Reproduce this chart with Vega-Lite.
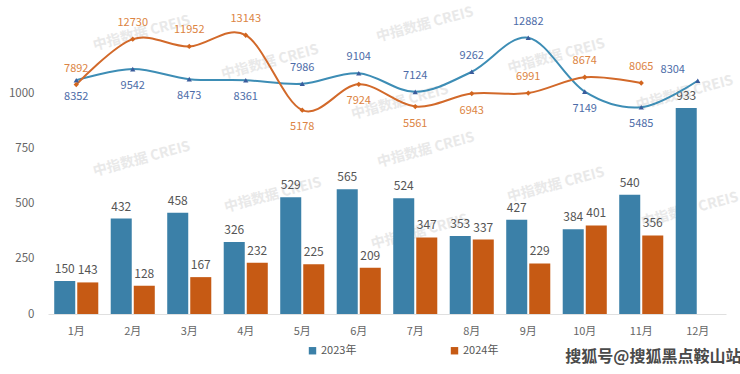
{
  "$schema": "https://vega.github.io/schema/vega-lite/v6.json",
  "width": 678,
  "height": 276,
  "autosize": {"type": "none"},
  "padding": {"left": 48, "top": 38, "right": 14, "bottom": 60},
  "background": "white",
  "config": {
    "view": {"stroke": null},
    "font": "Noto Sans CJK SC, Open Sans, sans-serif",
    "text": {"font": "Noto Sans CJK SC, Open Sans, sans-serif"}
  },
  "title": {
    "text": "搜狐号@搜狐黑点鞍山站",
    "orient": "bottom",
    "anchor": "end",
    "fontSize": 16,
    "fontWeight": "bold",
    "color": "#4a4a4a",
    "offset": -7
  },
  "datasets": {
    "main": [
      {"month": "1月", "year": "2023年", "vol": 150, "price": 8352},
      {"month": "1月", "year": "2024年", "vol": 143, "price": 7892},
      {"month": "2月", "year": "2023年", "vol": 432, "price": 9542},
      {"month": "2月", "year": "2024年", "vol": 128, "price": 12730},
      {"month": "3月", "year": "2023年", "vol": 458, "price": 8473},
      {"month": "3月", "year": "2024年", "vol": 167, "price": 11952},
      {"month": "4月", "year": "2023年", "vol": 326, "price": 8361},
      {"month": "4月", "year": "2024年", "vol": 232, "price": 13143},
      {"month": "5月", "year": "2023年", "vol": 529, "price": 7986},
      {"month": "5月", "year": "2024年", "vol": 225, "price": 5178},
      {"month": "6月", "year": "2023年", "vol": 565, "price": 9104},
      {"month": "6月", "year": "2024年", "vol": 209, "price": 7924},
      {"month": "7月", "year": "2023年", "vol": 524, "price": 7124},
      {"month": "7月", "year": "2024年", "vol": 347, "price": 5561},
      {"month": "8月", "year": "2023年", "vol": 353, "price": 9262},
      {"month": "8月", "year": "2024年", "vol": 337, "price": 6943},
      {"month": "9月", "year": "2023年", "vol": 427, "price": 12882},
      {"month": "9月", "year": "2024年", "vol": 229, "price": 6991},
      {"month": "10月", "year": "2023年", "vol": 384, "price": 7149},
      {"month": "10月", "year": "2024年", "vol": 401, "price": 8674},
      {"month": "11月", "year": "2023年", "vol": 540, "price": 5485},
      {"month": "11月", "year": "2024年", "vol": 356, "price": 8065},
      {"month": "12月", "year": "2023年", "vol": 933, "price": 8304}
    ],
    "wm": [
      {"wx": 1.66, "wy": 1271},
      {"wx": 1.66, "wy": 701},
      {"wx": 3.93, "wy": 1140},
      {"wx": 3.98, "wy": 538},
      {"wx": 6.67, "wy": 1310},
      {"wx": 6.23, "wy": 959},
      {"wx": 6.69, "wy": 742},
      {"wx": 6.58, "wy": 371},
      {"wx": 9.0, "wy": 1167},
      {"wx": 8.99, "wy": 584},
      {"wx": 11.27, "wy": 1000},
      {"wx": 11.36, "wy": 471}
    ]
  },
  "layer": [
    {
      "data": {"name": "wm"},
      "mark": {"type": "text", "text": "中指数据  CREIS", "angle": 345, "fontSize": 14, "fontWeight": "bold", "color": "#e9e9e9", "align": "center", "baseline": "middle"},
      "encoding": {
        "x": {"field": "wx", "type": "quantitative", "scale": {"domain": [0, 12], "nice": false, "zero": false}, "axis": null},
        "y": {"field": "wy", "type": "quantitative", "scale": {"domain": [0, 1250], "nice": false}, "axis": null}
      }
    },
    {
      "data": {"name": "main"},
      "layer": [
        {
          "mark": {"type": "bar"},
          "encoding": {
            "x": {
              "field": "month", "type": "ordinal",
              "sort": ["1月","2月","3月","4月","5月","6月","7月","8月","9月","10月","11月","12月"],
              "scale": {"paddingInner": 0, "paddingOuter": 0},
              "axis": {"title": null, "labelAngle": 0, "ticks": false, "domainColor": "#e0e0e0", "labelColor": "#666666", "labelFontSize": 11, "labelPadding": 11, "grid": false}
            },
            "xOffset": {"field": "year", "type": "nominal", "scale": {"paddingInner": 0.087, "paddingOuter": 0.27}},
            "y": {
              "field": "vol", "type": "quantitative",
              "scale": {"domain": [0, 1250], "nice": false},
              "axis": {"title": null, "values": [0, 250, 500, 750, 1000], "format": "d", "grid": false, "domain": false, "ticks": false, "labelColor": "#666666", "labelFontSize": 11.5, "labelPadding": 14}
            },
            "color": {
              "field": "year", "type": "nominal",
              "scale": {"domain": ["2023年", "2024年"], "range": ["#3b80a8", "#c65a14"]},
              "legend": {"title": null, "orient": "none", "legendX": 259, "legendY": 307, "direction": "horizontal", "columns": 2, "symbolType": "square", "symbolSize": 55, "labelFontSize": 11, "labelColor": "#555555", "columnPadding": 92, "labelOffset": 3}
            }
          }
        },
        {
          "mark": {"type": "text", "baseline": "bottom", "dy": -5, "fontSize": 12, "color": "#555555"},
          "encoding": {
            "x": {"field": "month", "type": "ordinal", "sort": ["1月","2月","3月","4月","5月","6月","7月","8月","9月","10月","11月","12月"]},
            "xOffset": {"field": "year", "type": "nominal"},
            "y": {"field": "vol", "type": "quantitative"},
            "text": {"field": "vol", "type": "quantitative", "format": "d"}
          }
        }
      ]
    },
    {
      "data": {"name": "main"},
      "encoding": {
        "x": {
          "field": "month", "type": "ordinal",
          "sort": ["1月","2月","3月","4月","5月","6月","7月","8月","9月","10月","11月","12月"],
          "scale": {"paddingInner": 0, "paddingOuter": 0},
          "axis": null
        },
        "y": {"field": "price", "type": "quantitative", "scale": {"domain": [-16500, 12850], "nice": false, "zero": false}, "axis": null}
      },
      "layer": [
        {
          "mark": {"type": "line", "interpolate": "cardinal", "strokeWidth": 2},
          "encoding": {
            "stroke": {"field": "year", "type": "nominal", "scale": {"domain": ["2023年", "2024年"], "range": ["#3d8db5", "#d2692a"]}, "legend": null}
          }
        },
        {
          "mark": {"type": "point", "filled": true, "size": 28, "opacity": 1},
          "encoding": {
            "shape": {"field": "year", "type": "nominal", "scale": {"domain": ["2023年", "2024年"], "range": ["triangle-up", "diamond"]}, "legend": null},
            "color": {"condition": {"test": "datum.year === '2023年'", "value": "#3a5c9c"}, "value": "#d2651e"}
          }
        },
        {
          "transform": [{"filter": "(datum.year === '2023年' && indexof(['5月','6月','7月','8月','9月'], datum.month) >= 0) || (datum.year === '2024年' && indexof(['1月','2月','3月','4月','9月','10月','11月'], datum.month) >= 0)"}],
          "mark": {"type": "text", "baseline": "middle", "dy": -16, "fontSize": 11},
          "encoding": {
            "text": {"field": "price", "type": "quantitative", "format": "d"},
            "color": {"condition": {"test": "datum.year === '2023年'", "value": "#4d6ca8"}, "value": "#dc8443"}
          }
        },
        {
          "transform": [{"filter": "datum.year === '2023年' && datum.month === '12月'"}],
          "mark": {"type": "text", "baseline": "middle", "dx": -25, "dy": -11, "fontSize": 11},
          "encoding": {
            "text": {"field": "price", "type": "quantitative", "format": "d"},
            "color": {"value": "#4d6ca8"}
          }
        },
        {
          "transform": [{"filter": "(datum.year === '2023年' && indexof(['1月','2月','3月','4月','10月','11月'], datum.month) >= 0) || (datum.year === '2024年' && indexof(['5月','6月','7月','8月'], datum.month) >= 0)"}],
          "mark": {"type": "text", "baseline": "middle", "dy": 17, "fontSize": 11},
          "encoding": {
            "text": {"field": "price", "type": "quantitative", "format": "d"},
            "color": {"condition": {"test": "datum.year === '2023年'", "value": "#4d6ca8"}, "value": "#dc8443"}
          }
        }
      ]
    }
  ],
  "resolve": {"scale": {"x": "independent", "y": "independent", "color": "independent"}}
}
